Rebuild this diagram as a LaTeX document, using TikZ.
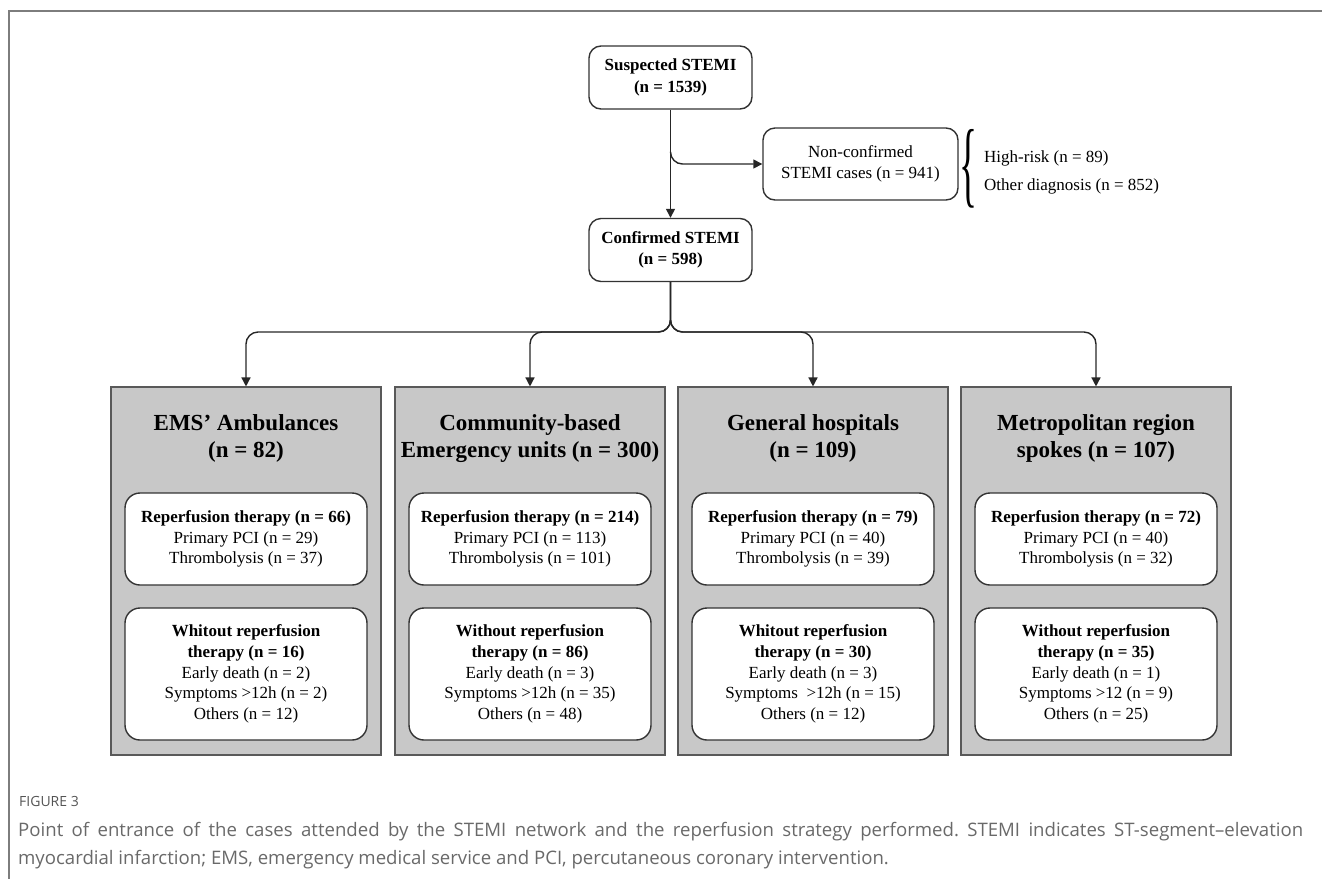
\documentclass[tikz,border=0pt]{standalone}
\usepackage{fontspec}
\usepackage{graphicx}
\setmainfont{Liberation Serif}
\newfontfamily\capfont{Open Sans}
\usetikzlibrary{arrows.meta}
\definecolor{boxgray}{RGB}{200,200,200}
\definecolor{capgray}{RGB}{105,105,105}
\definecolor{framegray}{RGB}{125,125,125}
\frenchspacing

\begin{document}
\begin{tikzpicture}[
    % GLOBAL CFG
    x=1pt, y=-1pt,
    font=\fontsize{17pt}{21.3pt}\selectfont,
    >={Triangle[length=9pt,width=9pt]},
    % Styles
    flow/.style={% For the boxes on top
        rectangle,
        rounded corners=12pt,
        draw=black!80,
        line width=1.4pt,
        fill=white,
        align=center,
        inner sep=2pt,
        },
    entry/.style={% For the gray point of entrance boxes
        rectangle,
        draw=black!65,
        line width=1.1pt,
        fill=boxgray,
        minimum width=270pt,
        minimum height=368pt,
        },
    entrytitle/.style={% Titles of the gray boxes
        font=\fontsize{23pt}{27pt}\selectfont\bfseries,
        align=center,
        inner sep=0pt,
        },
    sub/.style={% White boxes inside the gray ones
        rectangle,
        rounded corners=15pt,
        draw=black!80,
        line width=1.4pt,
        fill=white,
        minimum width=242pt,
        align=center,
        font=\fontsize{17pt}{20.8pt}\selectfont,
        },
    link/.style={% Connectors with rounded corners
        line width=1.4pt,
        draw=black!85,
        rounded corners=12pt,
        },
    ]
\useasboundingbox (0,0) rectangle (1322,879);

% Frame of the figure
\draw [framegray, line width=1.5pt] (1322,11) -- (9,11) -- (9,879);

% Draw the top boxes
\node [flow, minimum width=163pt, minimum height=63pt] (suspected) at (670.5,77.5)
    {\bfseries Suspected STEMI\\\bfseries (n = 1539)};
\node [flow, minimum width=195pt, minimum height=72pt] (nonconf) at (860.5,164)
    {Non-confirmed\\STEMI cases (n = 941)};
\node [flow, minimum width=163pt, minimum height=63pt] (confirmed) at (670.5,250)
    {\bfseries Confirmed STEMI\\\bfseries (n = 598)};

% Brace and the two groups of non-confirmed cases
\node [inner sep=0pt] (brace) at (968,169) {\resizebox{18pt}{66pt}{\{}};
\node [anchor=west, inner sep=0pt] (highrisk) at (984,158) {High-risk (n = 89)};
\node [anchor=west, inner sep=0pt] (otherdiag) at (984,186.5) {Other diagnosis (n = 852)};

% Draw the gray boxes
\node [entry] (ems) at (246,571) {};
\node [entry] (community) at (530,571) {};
\node [entry] (general) at (813,571) {};
\node [entry] (metro) at (1096,571) {};

% Titles of the gray boxes
\node [entrytitle] (emstitle) at (246,438.5) {EMS’ Ambulances\\(n = 82)};
\node [entrytitle] (communitytitle) at (530,438.5) {Community-based\\Emergency units (n = 300)};
\node [entrytitle] (generaltitle) at (813,438.5) {General hospitals\\(n = 109)};
\node [entrytitle] (metrotitle) at (1096,438.5) {Metropolitan region\\spokes (n = 107)};

% Reperfusion boxes, named as basis rep
\node [sub, minimum height=92pt] (emsrep) at (246,539)
    {\textbf{Reperfusion therapy (n = 66)}\\Primary PCI (n = 29)\\Thrombolysis (n = 37)};
\node [sub, minimum height=92pt] (communityrep) at (530,539)
    {\textbf{Reperfusion therapy (n = 214)}\\Primary PCI (n = 113)\\Thrombolysis (n = 101)};
\node [sub, minimum height=92pt] (generalrep) at (813,539)
    {\textbf{Reperfusion therapy (n = 79)}\\Primary PCI (n = 40)\\Thrombolysis (n = 39)};
\node [sub, minimum height=92pt] (metrorep) at (1096,539)
    {\textbf{Reperfusion therapy (n = 72)}\\Primary PCI (n = 40)\\Thrombolysis (n = 32)};

% Boxes without reperfusion, named as basis norep
\node [sub, minimum height=132pt] (emsnorep) at (246,674)
    {\textbf{Whitout reperfusion}\\\textbf{therapy (n = 16)}\\Early death (n = 2)\\Symptoms >12h (n = 2)\\Others (n = 12)};
\node [sub, minimum height=132pt] (communitynorep) at (530,674)
    {\textbf{Without reperfusion}\\\textbf{therapy (n = 86)}\\Early death (n = 3)\\Symptoms >12h (n = 35)\\Others (n = 48)};
\node [sub, minimum height=132pt] (generalnorep) at (813,674)
    {\textbf{Whitout reperfusion}\\\textbf{therapy (n = 30)}\\Early death (n = 3)\\Symptoms\ \ >12h (n = 15)\\Others (n = 12)};
\node [sub, minimum height=132pt] (metronorep) at (1096,674)
    {\textbf{Without reperfusion}\\\textbf{therapy (n = 35)}\\Early death (n = 1)\\Symptoms >12 (n = 9)\\Others (n = 25)};

% Start connecting all.
\coordinate (split) at (670.5,332);
\draw [link, ->] (suspected) -- (confirmed);
\draw [link, ->] (suspected.south) ++(0,42) |- (nonconf.west);

\draw [link, ->] (confirmed.south) |- (split -| ems.north) -- (ems.north);
\draw [link, ->] (confirmed.south) |- (split -| community.north) -- (community.north);
\draw [link, ->] (confirmed.south) |- (split -| general.north) -- (general.north);
\draw [link, ->] (confirmed.south) |- (split -| metro.north) -- (metro.north);

% Caption
\node [anchor=base west, inner sep=0pt, text=capgray!80!black,
    font=\capfont\fontsize{14pt}{16pt}\selectfont] (figlabel) at (19,806) {FIGURE 3};
\node [anchor=base west, inner sep=0pt, text=capgray,
    font=\capfont\fontsize{18.6pt}{28pt}\selectfont] (caption1) at (18,836)
    {\makebox[1285pt][s]{Point of entrance of the cases attended by the STEMI network and the reperfusion strategy performed. STEMI indicates ST-segment–elevation}};
\node [anchor=base west, inner sep=0pt, text=capgray,
    font=\capfont\fontsize{18.6pt}{28pt}\selectfont] (caption2) at (18,864)
    {myocardial infarction; EMS, emergency medical service and PCI, percutaneous coronary intervention.};

\end{tikzpicture}
\end{document}
